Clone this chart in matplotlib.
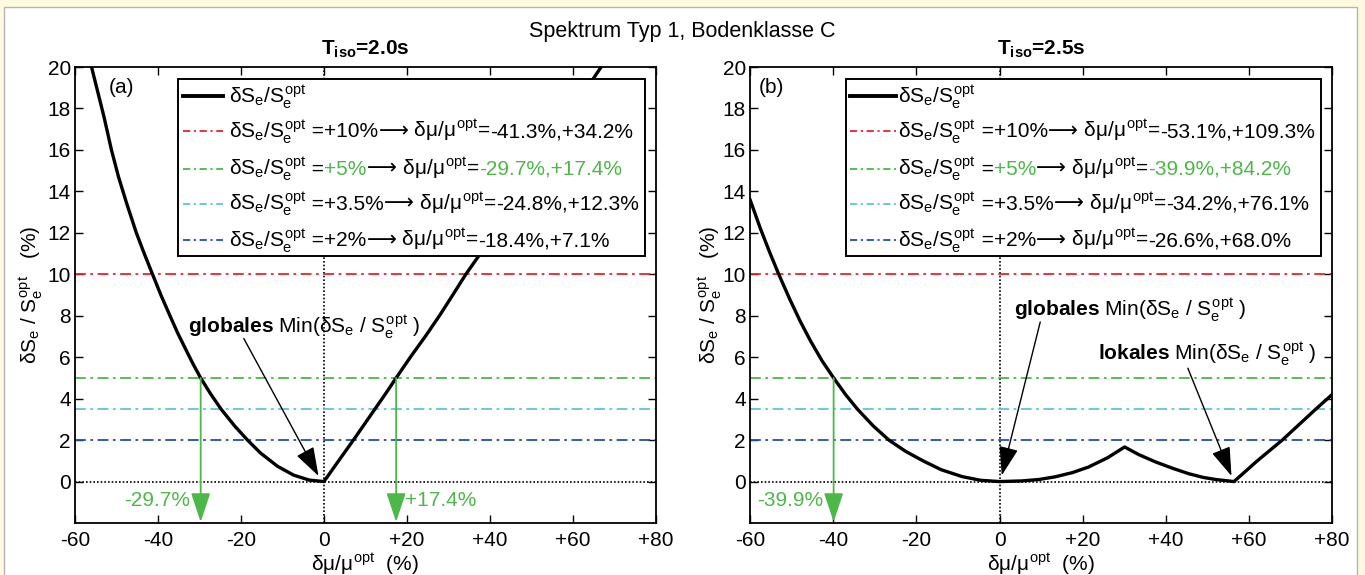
import matplotlib
matplotlib.use("Agg")
import matplotlib.pyplot as plt
from matplotlib.patches import Rectangle
from matplotlib.offsetbox import TextArea, HPacker, AnnotationBbox

plt.rcParams["font.family"] = ["Liberation Sans", "DejaVu Sans"]
plt.rcParams["mathtext.fontset"] = "custom"
plt.rcParams["mathtext.rm"] = "Liberation Sans"
plt.rcParams["mathtext.it"] = "Liberation Sans"
plt.rcParams["mathtext.bf"] = "Liberation Sans:bold"

# dS_e/S_e_opt (%) over dmu/mu_opt (%), T_iso = 2.0 s
mu_a = [-56.0, -54.5, -53.0, -51.2, -49.5, -47.5, -45.2, -43.3, -41.3, -39.2,
        -37.1, -35.2, -33.4, -31.5, -29.7, -27.4, -24.8, -21.5, -18.4, -15.3,
        -11.2, -7.3, -3.5, 0.0, 3.5, 7.1, 9.7, 12.3, 14.9, 17.4, 21.0, 24.6,
        28.0, 31.2, 34.2, 37.7, 45.0, 55.0, 66.8]
dse_a = [20.0, 18.8, 17.6, 16.0, 14.7, 13.4, 12.0, 11.0, 10.0, 8.96,
         8.0, 7.15, 6.42, 5.66, 5.0, 4.26, 3.5, 2.68, 2.0, 1.38,
         0.74, 0.31, 0.07, 0.0, 0.99, 2.0, 2.75, 3.5, 4.25, 5.0, 6.05, 7.05,
         8.05, 9.05, 10.0, 11.0, 13.4, 16.5, 20.0]

# same for T_iso = 2.5 s
mu_b = [-60.0, -57.5, -55.3, -53.1, -50.5, -48.0, -45.5, -42.7, -39.9, -37.0,
        -34.2, -30.4, -26.6, -22.6, -18.4, -14.0, -9.0, -4.5, 0.0, 5.3, 9.5,
        13.4, 17.5, 21.4, 26.0, 30.1, 33.5, 37.5, 41.5, 45.5, 49.0, 52.0, 56.4,
        62.0, 68.0, 76.1, 80.0]
dse_b = [13.6, 12.2, 11.07, 10.0, 8.82, 7.76, 6.8, 5.83, 5.0, 4.19,
         3.5, 2.69, 2.0, 1.46, 1.0, 0.57, 0.24, 0.06, 0.0, 0.03, 0.1,
         0.23, 0.43, 0.7, 1.15, 1.67, 1.3, 0.95, 0.65, 0.38, 0.2, 0.1, 0.0,
         1.0, 2.0, 3.5, 4.2]

levels = [10, 5, 3.5, 2]
level_text = ["+10%", "+5%", "+3.5%", "+2%"]
level_colors = ["#e8232a", "#4cb848", "#5ec4da", "#1d4fb3"]
cross_a = [(-41.3, 34.2), (-29.7, 17.4), (-24.8, 12.3), (-18.4, 7.1)]
cross_b = [(-53.1, 109.3), (-39.9, 84.2), (-34.2, 76.1), (-26.6, 68.0)]

xticks = [-60, -40, -20, 0, 20, 40, 60, 80]
xticklabels = ["-60", "-40", "-20", "0", "+20", "+40", "+60", "+80"]
yticks = list(range(0, 21, 2))

green = "#4cb848"
fs = 15
min_label = r" Min($\delta S_e$ / $S_e^{opt}$ )"
arrow_head = "-|>,head_length=0.9,head_width=0.3"


def draw_panel(ax, mu, dse, cross, tag, title, box_x, line_x, text_x, ylab_x, notes):
    ax.set_xlim(-60, 80)
    ax.set_ylim(-2, 20)
    ax.set_xticks(xticks)
    ax.set_xticklabels(xticklabels)
    ax.set_yticks(yticks)
    ax.tick_params(direction="in", top=True, right=True, length=6, width=1.0,
                   labelsize=fs, pad=3)
    ax.tick_params(axis="x", pad=6)
    for s in ax.spines.values():
        s.set_linewidth(1.3)

    ax.axhline(0, color="k", lw=1.2, ls=(0, (1, 1.2)), zorder=2)
    ax.axvline(0, color="k", lw=1.2, ls=(0, (1, 1.2)), zorder=2)
    for lev, col in zip(levels, level_colors):
        ax.axhline(lev, color=col, lw=1.3, ls=(0, (6, 2.5, 1.5, 2.5)), zorder=2)

    ax.plot(mu, dse, color="k", lw=2.4, zorder=3)

    # green read-off arrows at +5 %
    for x in cross[1]:
        if x > 80:
            continue
        ax.annotate("", xy=(x, -1.95), xytext=(x, 5),
                    arrowprops=dict(arrowstyle=arrow_head, color=green, lw=1.3,
                                    mutation_scale=20, shrinkA=0, shrinkB=0),
                    zorder=4)
        if x < 0:
            ax.text(x - 2.6, -0.9, f"{x:+.1f}%", color=green, fontsize=fs,
                    ha="right", va="center")
        else:
            ax.text(x + 2.2, -0.9, f"{x:+.1f}%", color=green, fontsize=fs,
                    ha="left", va="center")

    # minimum annotations
    for word, txy, start, tip in notes:
        ax.text(txy[0], txy[1], r"$\mathbf{" + word + "}$" + min_label,
                fontsize=fs, ha="left", va="center", zorder=4)
        ax.annotate("", xy=tip, xytext=start,
                    arrowprops=dict(arrowstyle=arrow_head, color="k", lw=1.0,
                                    mutation_scale=20, shrinkA=0, shrinkB=0),
                    zorder=4)

    ax.text(0.5, 1.028, r"$\mathbf{T_{iso}}$" + title, transform=ax.transAxes,
            ha="center", va="baseline", fontsize=fs, fontweight="bold")
    ax.text(tag[1], 0.955, tag[0], transform=ax.transAxes, fontsize=fs,
            ha="left", va="center")

    ax.set_xlabel(r"$\delta\mu/\mu^{opt}$  (%)", fontsize=fs, labelpad=1)
    ax.set_ylabel(r"$\delta S_e$ / $S_e^{opt}$   (%)", fontsize=fs)
    ax.yaxis.set_label_coords(ylab_x, 0.5)

    # legend box
    y0, y1 = 0.586, 0.9745
    ax.add_patch(Rectangle((box_x, y0), 0.981 - box_x, y1 - y0, transform=ax.transAxes,
                           facecolor="white", edgecolor="k", lw=1.4, zorder=5))
    rows = [0.936, 0.859, 0.777, 0.700, 0.620]
    ax.plot(line_x, [rows[0]] * 2, transform=ax.transAxes, color="k", lw=2.8,
            zorder=6)
    first = TextArea(r"$\delta S_e/S_e^{opt}$", textprops=dict(fontsize=fs))
    ax.add_artist(AnnotationBbox(first, (text_x, rows[0]), xycoords="axes fraction",
                                 box_alignment=(0, 0.5), frameon=False, pad=0,
                                 zorder=6))
    for i, (lo, hi) in enumerate(cross):
        yf = rows[i + 1]
        ax.plot(line_x, [yf] * 2, transform=ax.transAxes, color=level_colors[i],
                lw=1.3, ls=(0, (4, 2, 1.2, 2)), zorder=6)
        hl = green if i == 1 else "k"
        parts = [TextArea(r"$\delta S_e/S_e^{opt}$", textprops=dict(fontsize=fs)),
                 TextArea(" =", textprops=dict(fontsize=fs)),
                 TextArea(level_text[i], textprops=dict(fontsize=fs, color=hl)),
                 TextArea("⟶", textprops=dict(fontsize=fs, family="DejaVu Sans")),
                 TextArea(r" $\delta\mu/\mu^{opt}$=", textprops=dict(fontsize=fs)),
                 TextArea(f"{lo:+.1f}%,{hi:+.1f}%", textprops=dict(fontsize=fs, color=hl))]
        row = HPacker(children=parts, align="baseline", pad=0, sep=0)
        ax.add_artist(AnnotationBbox(row, (text_x, yf), xycoords="axes fraction",
                                     box_alignment=(0, 0.5), frameon=False, pad=0,
                                     zorder=6))


fig = plt.figure(figsize=(13.65, 5.75), dpi=100, facecolor="#fefadf")
fig.patches.append(Rectangle((3.5 / 1365, -0.05), (1357 - 3.5) / 1365, 1.05 - 6.5 / 575,
                             transform=fig.transFigure, facecolor="white",
                             edgecolor="#b4b4b4", lw=1.0, zorder=-1))

ax_a = fig.add_axes([0.0549, 0.0904, 0.4256, 0.7930])
ax_b = fig.add_axes([0.5495, 0.0904, 0.4264, 0.7930])

draw_panel(ax_a, mu_a, dse_a, cross_a, ("(a)", 0.058), "=2.0s", 0.177,
           [0.186, 0.255], 0.265, -0.053,
           [("globales", (-32.8, 7.5), (-19.3, 6.9), (-1.3, 0.27))])
draw_panel(ax_b, mu_b, dse_b, cross_b, ("(b)", 0.015), "=2.5s", 0.165,
           [0.1725, 0.2514], 0.255, -0.047,
           [("globales", (3.5, 8.3), (9.8, 7.7), (0.55, 0.3)),
            ("lokales", (23.7, 6.2), (45.3, 5.47), (55.8, 0.27))])

fig.text(0.5, 1 - 32 / 575, "Spektrum Typ 1, Bodenklasse C", ha="center", va="center",
         fontsize=15.5)

fig.savefig("out.png", dpi=100, facecolor=fig.get_facecolor())
